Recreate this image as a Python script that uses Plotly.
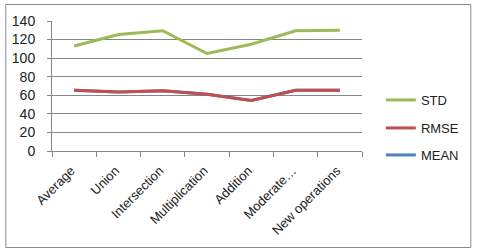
import plotly.graph_objects as go

categories = ["Average", "Union", "Intersection", "Multiplication", "Addition", "Moderate…", "New operations"]
std_values = [113, 125.5, 129.5, 105, 115, 129.5, 130]
rmse_values = [65.5, 63.5, 65, 61, 54.5, 65.5, 65.5]
mean_values = [65.5, 63.5, 65, 61, 54.5, 65.5, 65.5]
y_ticks = [0, 20, 40, 60, 80, 100, 120, 140]

W, H = 477, 251
L, R, T, B = 50, 362, 21, 151
pw, ph = R - L, B - T

def px(x):
    return (x - L) / pw

def py(y):
    return (B - y) / ph

fig = go.Figure()
fig.add_trace(go.Scatter(x=categories, y=mean_values, name="MEAN", mode="lines",
                         line=dict(color="#4F81BD", width=3), legend="legend3"))
fig.add_trace(go.Scatter(x=categories, y=rmse_values, name="RMSE", mode="lines",
                         line=dict(color="#C0504D", width=3), legend="legend2"))
fig.add_trace(go.Scatter(x=categories, y=std_values, name="STD", mode="lines",
                         line=dict(color="#9BBB59", width=3), legend="legend"))

font = dict(family="Liberation Sans", size=13, color="#222222")
yfont = dict(family="Liberation Sans", size=14, color="#222222")
leg = dict(xanchor="left", yanchor="middle", bgcolor="rgba(0,0,0,0)", font=font,
           itemwidth=30, visible=True)

fig.update_layout(
    width=W, height=H,
    margin=dict(l=L, r=W - R, t=T, b=H - B),
    paper_bgcolor="white", plot_bgcolor="white",
    font=font,
    showlegend=True,
    legend=dict(x=px(381), y=py(100), **leg),
    legend2=dict(x=px(381), y=py(128), **leg),
    legend3=dict(x=px(381), y=py(155), **leg),
    xaxis=dict(type="category", tickangle=-45, tickson="boundaries", ticks="outside",
               ticklen=5, tickcolor="#868686", showline=True, linecolor="#868686",
               showgrid=False, tickfont=font, range=[-0.5, 6.5],
               ticklabelstandoff=6, ticklabelshift=-3),
    yaxis=dict(range=[0, 140], tickvals=y_ticks, ticks="outside", ticklen=4,
               tickcolor="#868686", showline=True, linecolor="#868686",
               showgrid=True, gridcolor="#868686", gridwidth=1, zeroline=False,
               tickfont=yfont, ticklabelstandoff=9),
    shapes=[dict(type="rect", xref="paper", yref="paper",
                 x0=px(3.5), x1=px(471.5), y0=py(247.5), y1=py(4.5),
                 line=dict(color="#898989", width=1), fillcolor="rgba(0,0,0,0)")],
)

fig.write_html("out.html")
